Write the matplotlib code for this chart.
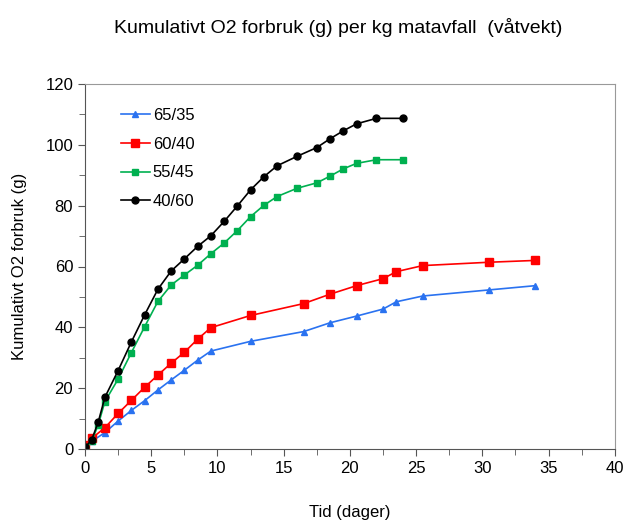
import matplotlib
matplotlib.use("Agg")
import matplotlib.pyplot as plt
from matplotlib.ticker import MultipleLocator

plt.rcParams['font.family'] = ['Liberation Sans', 'DejaVu Sans']

title = "Kumulativt O2 forbruk (g) per kg matavfall  (våtvekt)"
xlabel = "Tid (dager)"
ylabel = "Kumulativt O2 forbruk (g)"

# 65/35 and 60/40 share sampling times
t_a = [0, 0.5, 1.5, 2.5, 3.5, 4.5, 5.5, 6.5, 7.5, 8.5, 9.5, 12.5, 16.5, 18.5, 20.5, 22.5, 23.5, 25.5, 30.5, 34]
s_65_35 = [0.5, 2.5, 5.4, 9.2, 12.7, 15.9, 19.4, 22.7, 25.9, 29.2, 32.2, 35.4, 38.6, 41.5, 43.7, 46.0, 48.4, 50.3, 52.3, 53.7]
s_60_40 = [1.3, 3.5, 7.0, 11.7, 16.0, 20.3, 24.3, 28.2, 31.8, 36.1, 39.9, 43.9, 47.8, 50.9, 53.7, 56.0, 58.3, 60.3, 61.4, 62.0]

# 55/45 and 40/60 share sampling times
t_b = [0, 0.5, 1, 1.5, 2.5, 3.5, 4.5, 5.5, 6.5, 7.5, 8.5, 9.5, 10.5, 11.5, 12.5, 13.5, 14.5, 16, 17.5, 18.5, 19.5, 20.5, 22, 24]
s_55_45 = [0.5, 2.6, 8.0, 15.6, 23.0, 31.7, 40.2, 48.5, 53.9, 57.2, 60.4, 64.2, 67.7, 71.8, 76.4, 80.1, 83.0, 85.7, 87.5, 89.7, 92.1, 93.9, 95.1, 95.1]
s_40_60 = [0.5, 3.0, 8.9, 17.0, 25.8, 35.2, 44.1, 52.5, 58.5, 62.5, 66.6, 70.1, 74.8, 79.9, 85.2, 89.5, 93.1, 96.2, 99.1, 102.0, 104.6, 106.9, 108.7, 108.7]

fig = plt.figure(figsize=(6.27, 5.2), dpi=100)
ax = fig.add_axes([0.1356, 0.1365, 0.845, 0.702])

ax.plot(t_a, s_65_35, color='#2a72f0', marker='^', markersize=4.5, linewidth=1.2, label='65/35')
ax.plot(t_a, s_60_40, color='#ff0000', marker='s', markersize=5.5, linewidth=1.2, label='60/40')
ax.plot(t_b, s_55_45, color='#00b050', marker='s', markersize=4, linewidth=1.2, label='55/45')
ax.plot(t_b, s_40_60, color='#000000', marker='o', markersize=5, linewidth=1.2, label='40/60')

ax.set_xlim(0, 40)
ax.set_ylim(0, 120)
ax.xaxis.set_major_locator(MultipleLocator(5))
ax.xaxis.set_minor_locator(MultipleLocator(2.5))
ax.yaxis.set_major_locator(MultipleLocator(20))
ax.yaxis.set_minor_locator(MultipleLocator(10))
ax.tick_params(axis='both', which='both', direction='out', colors='#555555', labelcolor='black', labelsize=12)
ax.tick_params(which='major', length=5)
ax.tick_params(which='minor', length=4)

for side in ['left', 'bottom']:
    ax.spines[side].set_color('#555555')
for side in ['top', 'right']:
    ax.spines[side].set_color('#999999')

ax.set_xlabel(xlabel, fontsize=12, labelpad=21)
ax.set_ylabel(ylabel, fontsize=12, labelpad=13)

leg = ax.legend(loc='upper left', bbox_to_anchor=(0.04, 0.975), frameon=False, fontsize=12,
                handlelength=1.7, handletextpad=0.2, labelspacing=0.82)

fig.text(0.54, 0.948, title, ha='center', va='center', fontsize=14)

fig.savefig('out.png', dpi=100)
